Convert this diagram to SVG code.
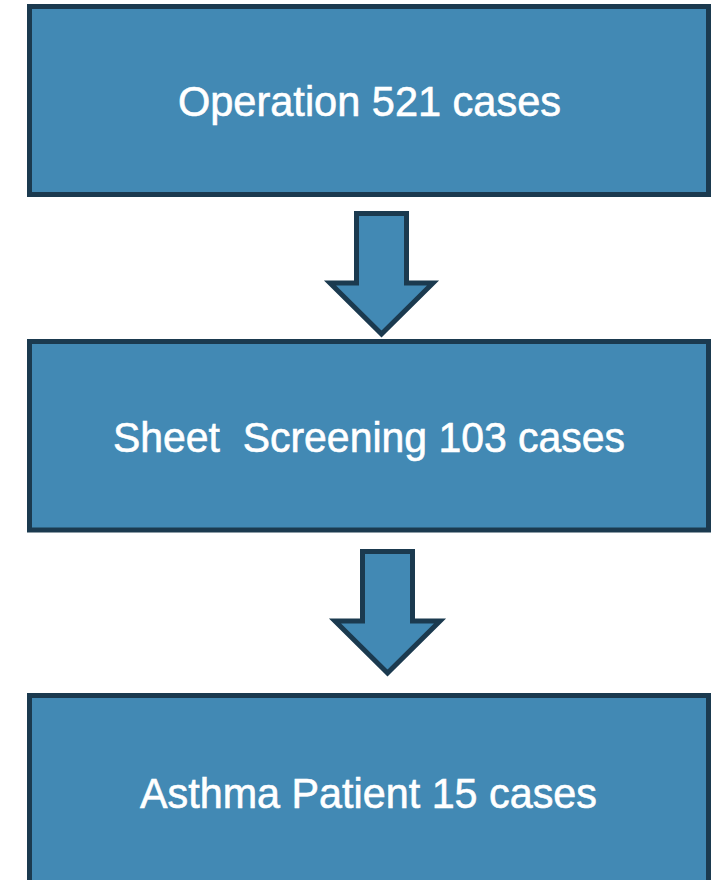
<svg xmlns="http://www.w3.org/2000/svg" width="720" height="880" viewBox="0 0 720 880">
<style>
.box{fill:#4289B4;stroke:#1B3A4F;stroke-width:5}
.arrow{fill:#4289B4;stroke:#1B3A4F;stroke-width:5;stroke-linejoin:miter}
.lbl{font-family:"Liberation Sans Narrow","Liberation Sans",Arial,sans-serif;font-size:42px;fill:#FFFFFF;stroke:#FFFFFF;stroke-width:0.6;white-space:pre}
</style>
<rect width="720" height="880" fill="#FFFFFF"/>
<g id="node-operation">
<rect class="box" x="29.5" y="6.5" width="679" height="188"/>
<text class="lbl" x="178" y="115.5" textLength="383" lengthAdjust="spacingAndGlyphs">Operation 521 cases</text>
</g>
<g id="node-screening">
<rect class="box" x="29.5" y="341.5" width="679" height="188.5"/>
<text class="lbl" x="113" y="452" textLength="512" lengthAdjust="spacingAndGlyphs" xml:space="preserve">Sheet  Screening 103 cases</text>
</g>
<g id="node-asthma">
<rect class="box" x="29.5" y="695.5" width="679" height="200"/>
<text class="lbl" x="140" y="808" textLength="457" lengthAdjust="spacingAndGlyphs">Asthma Patient 15 cases</text>
</g>
<g id="connectors">
<path class="arrow" d="M356.5,213.5 H406.5 V283 H433 L381.5,334 L330,283 H356.5 Z"/>
<path class="arrow" d="M362.5,551.5 H412.5 V621 H440 L387.5,673 L335,621 H362.5 Z"/>
</g>
</svg>
